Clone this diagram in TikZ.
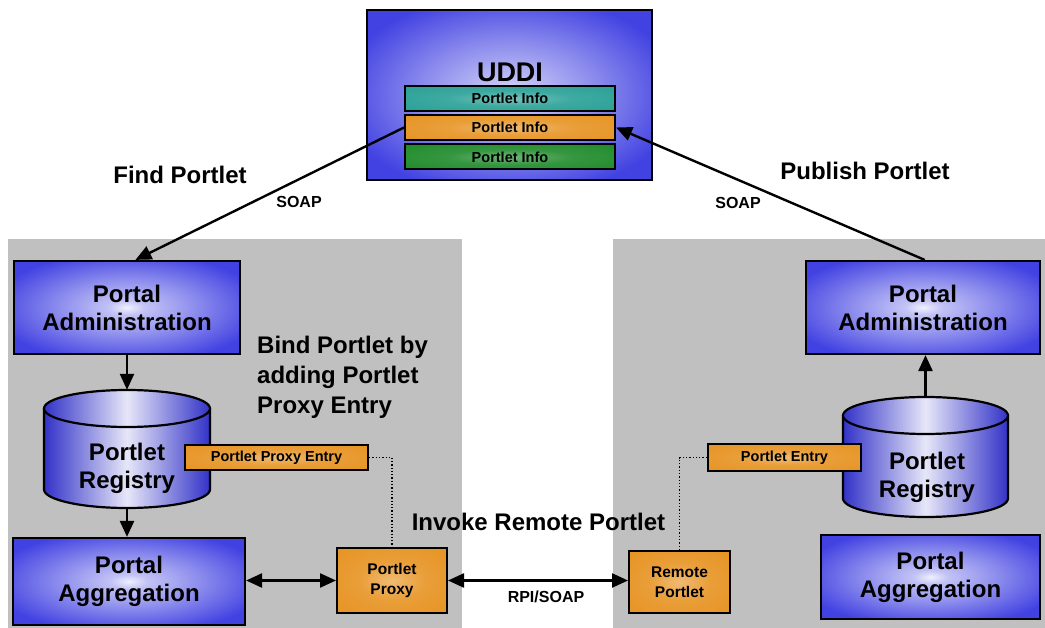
\documentclass[tikz,border=0pt]{standalone}
\usepackage{fontspec}
\setmainfont{Liberation Sans}
\usetikzlibrary{arrows.meta}
\definecolor{boxblue}{RGB}{66,66,226}
\definecolor{cylblue}{RGB}{50,50,200}
\definecolor{panelgray}{RGB}{192,192,192}
\definecolor{orng}{RGB}{230,145,30}
\definecolor{tealc}{RGB}{36,158,148}
\definecolor{grn}{RGB}{26,136,38}
\pgfdeclareradialshading{blueglow}{\pgfpoint{0bp}{0bp}}{color(0bp)=(white!92!boxblue); color(4bp)=(white!68!boxblue); color(15bp)=(boxblue!60!white); color(30bp)=(boxblue); color(100bp)=(boxblue)}
\pgfdeclareradialshading{orangeglow}{\pgfpoint{0bp}{0bp}}{color(0bp)=(white!38!orng); color(15bp)=(white!12!orng); color(40bp)=(orng); color(100bp)=(orng!85!black)}
\pgfdeclareradialshading{tealglow}{\pgfpoint{0bp}{0bp}}{color(0bp)=(white!38!tealc); color(15bp)=(white!12!tealc); color(40bp)=(tealc); color(100bp)=(tealc!85!black)}
\pgfdeclareradialshading{greenglow}{\pgfpoint{0bp}{0bp}}{color(0bp)=(white!38!grn); color(15bp)=(white!12!grn); color(40bp)=(grn); color(100bp)=(grn!85!black)}
\newcommand{\fbig}{\fontsize{24}{28}\selectfont\bfseries}
\newcommand{\fuddi}{\fontsize{27}{30}\selectfont\bfseries}
\newcommand{\fsoap}{\fontsize{16}{18}\selectfont\bfseries}
\newcommand{\fsmall}{\fontsize{14.5}{20}\selectfont\bfseries}
\newcommand{\fmid}{\fontsize{15.5}{20}\selectfont\bfseries}
\tikzset{
  bluebox/.style={draw=black, line width=2.2pt, shading=blueglow, inner sep=0pt, align=center, font=\fbig},
  orangebox/.style={draw=black, line width=2pt, shading=orangeglow, inner sep=0pt, align=center, font=\fsmall},
  infobar/.style={draw=black, line width=2pt, inner sep=0pt, minimum width=210pt, minimum height=25pt, font=\fsmall},
  arr/.style={line width=2.4pt, -{Triangle[length=16pt,width=14pt]}},
  darr/.style={line width=2.4pt, {Triangle[length=16pt,width=14pt]}-{Triangle[length=16pt,width=14pt]}},
  dots/.style={line width=1.3pt, dotted},
  lbl/.style={font=\fbig, inner sep=0pt},
  cylbody/.style={left color=cylblue, right color=cylblue, middle color=white!88!cylblue},
}
\begin{document}
\begin{tikzpicture}[x=1pt,y=-1pt]
\useasboundingbox (0,0) rectangle (1045,628);
% panels
\fill[panelgray] (8,239) rectangle (462,628);
\fill[panelgray] (613,239) rectangle (1045,628);
% UDDI
\node[bluebox, minimum width=285pt, minimum height=170pt] (uddi) at (509.5,95) {};
\node[font=\fuddi, inner sep=0pt] (uddit) at (510,72) {UDDI};
\node[infobar, shading=tealglow] (info1) at (510,98.5) {Portlet Info};
\node[infobar, shading=orangeglow] (info2) at (510,127.5) {Portlet Info};
\node[infobar, shading=greenglow] (info3) at (510,157) {Portlet Info};
% left side
\node[bluebox, minimum width=226pt, minimum height=93pt] (ladmin) at (127,307.5) {Portal\\Administration};
\node[bluebox, minimum width=232pt, minimum height=87pt] (lagg) at (129,581.5) {Portal\\Aggregation};
% left cylinder
\path[cylbody] (44,408.5) -- (44,489.5) arc[start angle=180, end angle=0, x radius=83, y radius=18.5] -- (210,408.5) arc[start angle=0, end angle=-180, x radius=83, y radius=18.5] -- cycle;
\draw[line width=2.2pt] (44,408.5) -- (44,489.5) arc[start angle=180, end angle=0, x radius=83, y radius=18.5] -- (210,408.5);
\draw[line width=2.2pt, cylbody] (127,408.5) ellipse[x radius=83, y radius=18.5];
\node[minimum width=166pt, minimum height=118pt, inner sep=0pt] (lreg) at (127,449) {};
\node[font=\fbig, align=center, inner sep=0pt] (lregt) at (127,468) {Portlet\\Registry};
\node[orangebox, minimum width=183pt, minimum height=25pt] (pentry) at (276.5,457.5) {Portlet Proxy Entry};
\node[orangebox, minimum width=110pt, minimum height=65pt, font=\fmid] (lproxy) at (392,580.5) {Portlet\\Proxy};
% right side
\node[bluebox, minimum width=234pt, minimum height=93pt] (radmin) at (923,307.5) {Portal\\Administration};
\node[bluebox, minimum width=219pt, minimum height=84pt] (ragg) at (930.5,577) {Portal\\Aggregation};
\path[cylbody] (843,415.5) -- (843,498.5) arc[start angle=180, end angle=0, x radius=82.5, y radius=18.5] -- (1008,415.5) arc[start angle=0, end angle=-180, x radius=82.5, y radius=18.5] -- cycle;
\draw[line width=2.2pt] (843,415.5) -- (843,498.5) arc[start angle=180, end angle=0, x radius=82.5, y radius=18.5] -- (1008,415.5);
\draw[line width=2.2pt, cylbody] (925.5,415.5) ellipse[x radius=82.5, y radius=18.5];
\node[minimum width=165pt, minimum height=120pt, inner sep=0pt] (rreg) at (925.5,457) {};
\node[font=\fbig, align=center, inner sep=0pt] (rregt) at (927,477) {Portlet\\Registry};
\node[orangebox, minimum width=153pt, minimum height=26pt] (eentry) at (784.5,457.5) {Portlet Entry};
\node[orangebox, minimum width=101pt, minimum height=62pt, font=\fmid] (rportlet) at (679.5,582) {Remote\\Portlet};
% connectors
\draw[arr] (info2.west) -- (ladmin.80);
\draw[arr] (radmin.88) -- (info2.east);
\draw[arr] (ladmin.south) -- (lreg.north);
\draw[arr] (lreg.south) -- (lreg.south |- lagg.north);
\draw[arr] (rreg.north) -- (rreg.north |- radmin.south);
\draw[darr] (lproxy.west -| lagg.east) -- (lproxy.west);
\draw[darr] (lproxy.east) -- (lproxy.east -| rportlet.west);
\draw[dots] (pentry.east) -- (pentry.east -| lproxy.north) -- (lproxy.north);
\draw[dots] (eentry.west) -- (eentry.west -| rportlet.north) -- (rportlet.north);
% labels
\node[lbl] (find) at (180,175) {Find Portlet};
\node[lbl] (publish) at (865,171) {Publish Portlet};
\node[font=\fsoap, inner sep=0pt] (soap1) at (299,202) {SOAP};
\node[font=\fsoap, inner sep=0pt] (soap2) at (738,203) {SOAP};
\node[font=\fontsize{24}{30}\selectfont\bfseries, align=left, anchor=west, inner sep=0pt] (bind) at (257,377) {Bind Portlet by\\adding Portlet\\Proxy Entry};
\node[lbl] (invoke) at (538.5,522) {Invoke Remote Portlet};
\node[font=\fsoap, inner sep=0pt] (rpi) at (546,597) {RPI/SOAP};
\end{tikzpicture}
\end{document}
